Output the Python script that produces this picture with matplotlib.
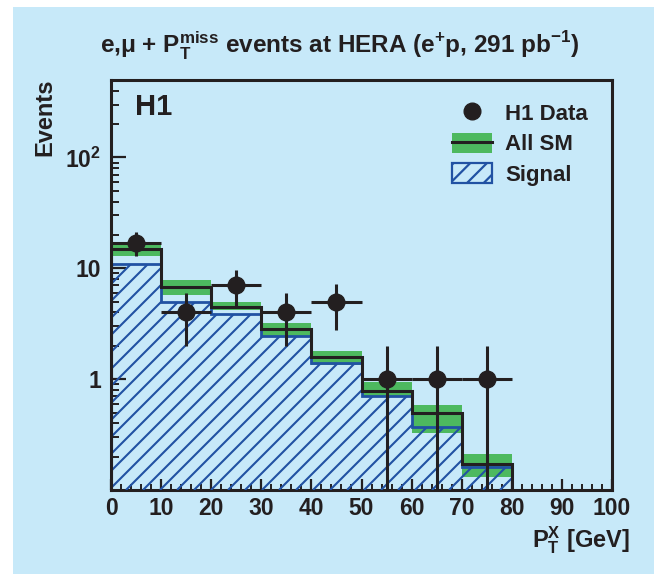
import matplotlib
matplotlib.use('Agg')
import matplotlib.pyplot as plt
import numpy as np
from matplotlib.patches import Patch, Rectangle
from matplotlib.lines import Line2D
from matplotlib.collections import LineCollection
from matplotlib.legend_handler import HandlerTuple
from matplotlib.ticker import FixedLocator, LogLocator, MultipleLocator, NullFormatter

plt.rcParams['font.family'] = ['Liberation Sans', 'DejaVu Sans']
plt.rcParams['font.weight'] = 'bold'
plt.rcParams['hatch.linewidth'] = 1.6

# colori
bg = '#c7e9f9'
green = '#4db95f'
blue = '#2152a3'
black = '#231f20'

# dati
bin_edges = [0, 10, 20, 30, 40, 50, 60, 70, 80]
sm_total = [15, 6.8, 4.5, 2.85, 1.57, 0.78, 0.49, 0.17]
sm_upper = [16.5, 7.8, 5.0, 3.2, 1.8, 0.95, 0.59, 0.21]
sm_lower = [13, 5.8, 4.2, 2.45, 1.35, 0.69, 0.33, 0.13]
signal = [11, 5.0, 3.9, 2.45, 1.4, 0.7, 0.37, 0.16]

data_x = [5, 15, 25, 35, 45, 55, 65, 75]
data_y = [17, 4, 7, 4, 5, 1, 1, 1]
data_err_lo = [4.1, 2.0, 2.6, 2.0, 2.2, 0.999, 0.999, 0.999]
data_err_hi = [4.1, 2.0, 2.6, 2.0, 2.2, 1.0, 1.0, 1.0]
data_xerr = [5, 5, 5, 5, 5, 5, 5, 5]

W, H = 654, 574
fig = plt.figure(figsize=(W / 100, H / 100), dpi=100)
fig.patch.set_facecolor(bg)
# bordo bianco in alto e a sinistra
fig.patches.append(Rectangle((0, 0), 13 / W, 1, transform=fig.transFigure,
                             facecolor='white', edgecolor='none', zorder=-10))
fig.patches.append(Rectangle((0, 1 - 7 / H), 1, 7 / H, transform=fig.transFigure,
                             facecolor='white', edgecolor='none', zorder=-10))

ax_w, ax_h = 501, 410  # pixel
ax = fig.add_axes([111 / W, 1 - 490 / H, ax_w / W, ax_h / H])
ax.set_facecolor(bg)
ax.set_yscale('log')

# banda verde (incertezza SM)
ax.stairs(sm_upper, bin_edges, baseline=sm_lower, fill=True, color=green, lw=0, zorder=2)

# segnale: tratteggio a 45 gradi, passo ~17 px, ritagliato sull'istogramma
sig_patch = ax.stairs(signal, bin_edges, baseline=1e-3, fill=True, facecolor='none', lw=0, zorder=3)
step = 17
segs = []
for x0 in np.arange(-ax_h, ax_w + step, step):
    segs.append([(x0 / ax_w, 0), ((x0 + ax_h) / ax_w, 1)])
hatch = LineCollection(segs, colors=blue, linewidths=1.5, transform=ax.transAxes, zorder=3)
ax.add_collection(hatch, autolim=False)
hatch.set_clip_path(sig_patch)
ax.stairs(signal, bin_edges, baseline=None, color=blue, lw=2.0, zorder=4)
# totale SM
ax.stairs(sm_total, bin_edges, baseline=1e-3, color=black, lw=2.2, zorder=5)

# dati H1
ax.errorbar(data_x, data_y, xerr=data_xerr, yerr=[data_err_lo, data_err_hi], fmt='o',
            color=black, ms=12, elinewidth=2.2, capsize=0, zorder=6)

ax.set_xlim(0, 100)
ax.set_ylim(0.1, 500)

for s in ax.spines.values():
    s.set_linewidth(2.2)
    s.set_color(black)

ax.xaxis.set_major_locator(MultipleLocator(10))
ax.xaxis.set_minor_locator(MultipleLocator(2))
ax.yaxis.set_major_locator(FixedLocator([1, 10, 100]))
ax.yaxis.set_minor_locator(LogLocator(base=10, subs=np.arange(2, 10)))
ax.yaxis.set_minor_formatter(NullFormatter())
ax.set_yticklabels(['1', '10', r'$\mathregular{10^2}$'])

ax.tick_params(axis='both', which='both', direction='in', color=black, top=False, right=False,
               labelsize=16.5, labelcolor=black)
ax.tick_params(axis='x', which='major', length=8, width=1.6, pad=5)
ax.tick_params(axis='x', which='minor', length=4, width=1.4)
ax.tick_params(axis='y', which='major', length=11, width=1.6, pad=7)
ax.tick_params(axis='y', which='minor', length=6, width=1.4)
for lab in ax.get_xticklabels() + ax.get_yticklabels():
    lab.set_fontweight('bold')

ax.text(0.048, 0.968, 'H1', transform=ax.transAxes, fontsize=21, fontweight='bold',
        ha='left', va='top', color=black)

# legenda
h_data = Line2D([], [], marker='o', color=black, ls='none', ms=12)
h_sm = (Patch(facecolor=green, edgecolor='none'), Line2D([], [], color=black, lw=2.2))
h_sig = Patch(facecolor='none', edgecolor=blue, hatch='//', lw=1.6)
leg = ax.legend([h_data, h_sm, h_sig], ['H1 Data', 'All SM', 'Signal'],
                handler_map={tuple: HandlerTuple(ndivide=1, pad=0)},
                loc='upper left', bbox_to_anchor=(0.68, 0.945), frameon=False,
                fontsize=16, handlelength=1.8, handleheight=1.0, handletextpad=0.6,
                labelspacing=0.35, borderpad=0, borderaxespad=0)
for t in leg.get_texts():
    t.set_color(black)
    t.set_fontweight('bold')

fig.text(340 / W, 1 - 46 / H,
         r'e,μ + $\mathregular{P_T^{miss}}$ events at HERA (e$^{\mathregular{+}}$p, 291 pb$^{\mathregular{-1}}$)',
         ha='center', va='center', fontsize=17.5, fontweight='bold', color=black)
fig.text(45 / W, 1 - 78 / H, 'Events', rotation=90, ha='center', va='top',
         fontsize=17, fontweight='bold', color=black)
fig.text(630 / W, 1 - 540 / H, r'$\mathregular{P_T^X}$ [GeV]', ha='right', va='center',
         fontsize=17, fontweight='bold', color=black)

fig.savefig('out.png', dpi=100, facecolor=fig.get_facecolor())
